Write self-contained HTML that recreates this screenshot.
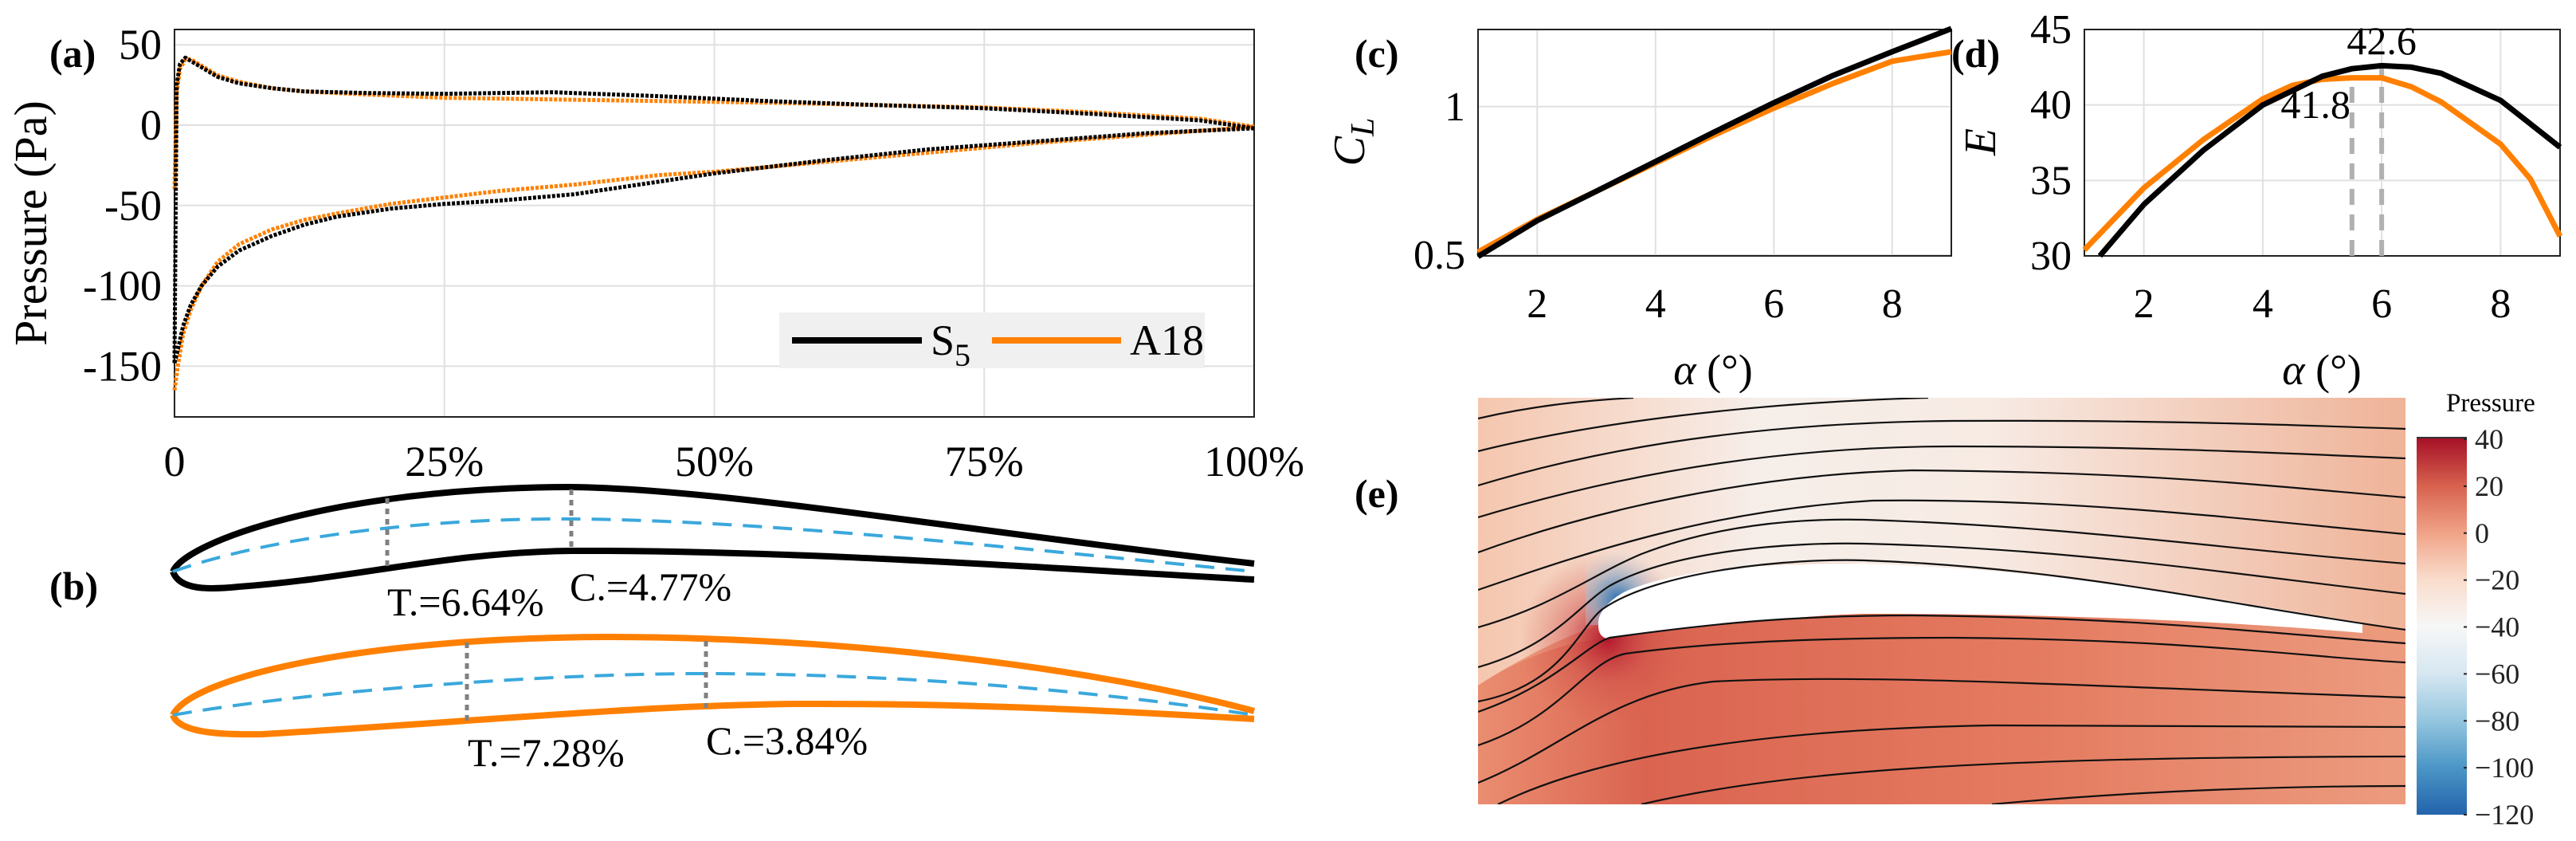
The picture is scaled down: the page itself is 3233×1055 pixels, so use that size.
<!DOCTYPE html>
<html><head><meta charset="utf-8"><style>
html,body{margin:0;padding:0;background:#fff;}
svg, svg text{font-family:"Liberation Serif",serif;}
svg{display:block;}
</style></head><body>
<svg id="root" width="3233" height="1055" viewBox="0 0 3233 1055" xmlns="http://www.w3.org/2000/svg" font-family="Liberation Serif, serif">
<defs>
<linearGradient id="cbar" x1="0" y1="0" x2="0" y2="1">
<stop offset="0" stop-color="#a50f26"/><stop offset="0.125" stop-color="#d6604d"/><stop offset="0.25" stop-color="#f0a286"/><stop offset="0.375" stop-color="#f9dccb"/><stop offset="0.5" stop-color="#f7f7f7"/><stop offset="0.625" stop-color="#d6e7f1"/><stop offset="0.75" stop-color="#95c6df"/><stop offset="0.875" stop-color="#4b96c6"/><stop offset="1" stop-color="#2363ab"/>
</linearGradient>
<linearGradient id="upG" x1="0" y1="0" x2="1" y2="0">
<stop offset="0" stop-color="#f5c6ae"/><stop offset="0.3" stop-color="#f6eee9"/><stop offset="0.55" stop-color="#f7ebe4"/><stop offset="1" stop-color="#efb398"/>
</linearGradient>
<linearGradient id="lowG" x1="0" y1="0" x2="1" y2="0">
<stop offset="0" stop-color="#ea8d70"/><stop offset="0.18" stop-color="#da6450"/><stop offset="0.6" stop-color="#e47b60"/><stop offset="1" stop-color="#ec9b7f"/>
</linearGradient>
<radialGradient id="hot" cx="2018" cy="802" r="110" gradientUnits="userSpaceOnUse">
<stop offset="0" stop-color="#b2182b"/><stop offset="0.5" stop-color="#d0504a" stop-opacity="0.5"/><stop offset="1" stop-color="#d6604d" stop-opacity="0"/>
</radialGradient>
<radialGradient id="cold" cx="2030" cy="752" r="65" gradientUnits="userSpaceOnUse">
<stop offset="0" stop-color="#2c6fb0"/><stop offset="0.45" stop-color="#7fb5d8" stop-opacity="0.6"/><stop offset="1" stop-color="#e8f0f5" stop-opacity="0"/>
</radialGradient>
<clipPath id="fclip"><rect x="1855" y="499" width="1164" height="510"/></clipPath>
<clipPath id="upclip"><path d="M1855,499 L3019,499 L3019,792 L2965,781 C2800,755 2600,715 2340,707 C2200,703 2080,720 2030,752 C2010,765 2004,778 2006,784 L1855,784 Z"/></clipPath>
</defs>

<!-- ===== Panel (a) ===== -->
<g id="pa"></g>
<text x="62" y="84" font-size="50" font-weight="bold">(a)</text>
<text transform="translate(58,280) rotate(-90)" text-anchor="middle" font-size="58">Pressure (Pa)</text>
<g>
<rect x="978" y="392" width="534" height="70" fill="#f0f0f0"/>
<line x1="994" y1="427" x2="1157" y2="427" stroke="#000" stroke-width="8"/>
<text x="1168" y="445" font-size="54">S<tspan font-size="40" dy="14">5</tspan></text>
<line x1="1245" y1="427" x2="1407" y2="427" stroke="#ff8000" stroke-width="8"/>
<text x="1418" y="445" font-size="54">A18</text>
</g>

<!-- ===== Panel (b) ===== -->
<text x="62" y="752" font-size="50" font-weight="bold">(b)</text>
<g>
<path d="M217,717 C225,740 260,740 300,736 C450,725 560,693 717,691 C1000,690 1300,712 1574,727" fill="none" stroke="#000" stroke-width="8"/>
<path d="M217,717 C232,680 420,612 713,611 C900,612 1200,665 1574,707" fill="none" stroke="#000" stroke-width="8"/>
<path d="M217,717 C350,670 550,650 717,651 C950,652 1300,690 1574,717" fill="none" stroke="#3aa8dc" stroke-width="4" stroke-dasharray="24 14"/>
<line x1="486" y1="625" x2="486" y2="714" stroke="#808080" stroke-width="5" stroke-dasharray="7 6"/>
<line x1="717" y1="614" x2="717" y2="692" stroke="#808080" stroke-width="5" stroke-dasharray="7 6"/>
<text x="486" y="772" font-size="50">T.=6.64%</text>
<text x="715" y="753" font-size="50">C.=4.77%</text>
</g>
<g>
<path d="M217,897 C225,920 280,922 330,921 C600,905 800,885 1000,883 C1250,882 1450,895 1574,902" fill="none" stroke="#ff8000" stroke-width="8"/>
<path d="M217,897 C240,850 450,800 765,799 C1100,800 1400,845 1574,892" fill="none" stroke="#ff8000" stroke-width="8"/>
<path d="M217,897 C400,865 700,845 878,845 C1150,845 1400,870 1574,897" fill="none" stroke="#3aa8dc" stroke-width="4" stroke-dasharray="24 14"/>
<line x1="586" y1="806" x2="586" y2="906" stroke="#808080" stroke-width="5" stroke-dasharray="7 6"/>
<line x1="886" y1="804" x2="886" y2="888" stroke="#808080" stroke-width="5" stroke-dasharray="7 6"/>
<text x="587" y="961" font-size="50">T.=7.28%</text>
<text x="886" y="946" font-size="50">C.=3.84%</text>
</g>

<!-- ===== Panels (c),(d) ===== -->
<g id="pc"></g>
<g id="pd"></g>
<text x="1700" y="84" font-size="50" font-weight="bold">(c)</text>
<text x="2449" y="84" font-size="50" font-weight="bold">(d)</text>
<text transform="translate(1712,178) rotate(-90)" text-anchor="middle" font-size="56" font-style="italic">C<tspan font-size="42" dy="12">L</tspan></text>
<text transform="translate(2504,178) rotate(-90)" text-anchor="middle" font-size="56" font-style="italic">E</text>
<text x="2150" y="482" text-anchor="middle" font-size="54"><tspan font-style="italic">α</tspan> (°)</text>
<text x="2914" y="482" text-anchor="middle" font-size="54"><tspan font-style="italic">α</tspan> (°)</text>

<!-- ===== Panel (e) ===== -->
<text x="1700" y="636" font-size="50" font-weight="bold">(e)</text>
<g clip-path="url(#fclip)">
<rect x="1855" y="499" width="1164" height="510" fill="#eb9a7c"/>
<path d="M1855,499 L3019,499 L3019,792 L2965,781 C2800,755 2600,715 2340,707 C2200,703 2080,720 2030,752 C2010,765 2004,778 2006,784 C1960,800 1900,830 1855,860 Z" fill="url(#upG)"/>
<path d="M1855,860 C1900,830 1960,805 2016,801 C2100,790 2250,772 2340,770 C2600,770 2800,780 2965,794 L3019,800 L3019,1009 L1855,1009 Z" fill="url(#lowG)"/>
<rect x="1855" y="499" width="1164" height="510" fill="url(#hot)"/>
<rect x="1990" y="499" width="1029" height="510" fill="url(#cold)" clip-path="url(#upclip)"/>
<path d="M2006,784 C2004,770 2020,752 2040,742 C2100,715 2220,705 2340,707 C2600,715 2800,755 2965,781 L2965,794 C2800,780 2600,770 2340,770 C2250,772 2100,790 2016,801 C2008,798 2006,792 2006,784 Z" fill="#fff"/>
<g id="streams" fill="none" stroke="#111" stroke-width="2.2">
<path d="M1855,525 C1920,510 1980,503 2050,499"/>
<path d="M1855,566 C2000,530 2200,505 2420,499"/>
<path d="M1855,609 C2050,550 2250,530 2450,528 C2700,527 2850,532 3019,538"/>
<path d="M1855,649 C2050,590 2250,560 2450,560 C2700,560 2850,568 3019,575"/>
<path d="M1855,693 C2000,640 2200,595 2400,590 C2700,592 2850,610 3019,624"/>
<path d="M1855,740 C2000,690 2150,640 2350,628 C2600,625 2800,650 3019,670"/>
<path d="M1855,787 C1950,760 2000,720 2060,695 C2150,660 2250,650 2340,652 C2600,660 2800,690 3019,707"/>
<path d="M1855,837 C1950,810 1980,760 2020,735 C2100,690 2250,680 2340,682 C2600,688 2800,720 3019,745"/>
<path d="M1855,880 C1960,860 1980,790 2010,765 C2080,715 2250,700 2340,703 C2600,712 2800,760 3019,790"/>
<path d="M1855,893 C1950,860 1990,810 2020,800 C2150,782 2250,772 2400,772 C2700,775 2850,795 3019,807"/>
<path d="M1855,935 C1960,900 1990,830 2040,820 C2150,805 2300,800 2450,800 C2750,802 2900,825 3019,831"/>
<path d="M1855,982 C1960,940 2020,870 2150,855 C2350,845 2600,860 3019,875"/>
<path d="M1880,1009 C2000,950 2200,915 2500,910 L3019,912"/>
<path d="M2060,1009 C2250,965 2500,950 3019,949"/>
<path d="M2500,1009 C2700,990 2900,986 3019,986"/>
</g>
</g>
<rect x="3033" y="549" width="63" height="473" fill="url(#cbar)"/>
<line x1="3033" y1="549" x2="3096" y2="549" stroke="#333" stroke-width="2"/>
<text x="3070" y="516" font-size="33">Pressure</text>
<g id="cbticks"></g>

<script>
var NS="http://www.w3.org/2000/svg";
function mk(tag,attrs,parent){var e=document.createElementNS(NS,tag);for(var k in attrs)e.setAttribute(k,attrs[k]);parent.appendChild(e);return e;}

// ---- Panel (a) data ----
var aXTicks=[0,25,50,75,100];
var aXTickLabels=["0","25%","50%","75%","100%"];
var aYTicks=[50,0,-50,-100,-150];
var s5UpperX=[0,0.2,0.5,1,1.5,2.5,4,6,9,12,18,25,35,45,55,65,75,85,95,100];
var s5UpperP=[-148,25,38,42,40,36,30,26,23,21,20,19.5,20.5,18,15,12.5,10.5,7,3,-2];
var a18UpperX=[0,0.2,0.5,1,1.5,2.5,4,6,9,12,18,25,35,45,55,65,75,85,95,100];
var a18UpperP=[-40,20,35,41,41,37,31,27,23,21,19,17,16,15,14,12.5,11,8,4,-1];
var s5LowerX=[0,0.3,0.8,1.5,2.5,4,6,9,12,15,20,25,30,37,45,50,60,70,80,90,100];
var s5LowerP=[-148,-140,-125,-112,-100,-88,-78,-69,-62,-57,-52,-49,-47,-43,-35,-30,-22,-15,-10,-5,-2];
var a18LowerX=[0,0.3,0.8,1.5,2.5,4,6,9,12,15,20,25,30,37,45,50,60,70,80,90,100];
var a18LowerP=[-165,-150,-130,-115,-100,-85,-74,-65,-59,-55,-49,-45,-41,-37,-31,-29,-23,-17,-11,-6,-1];

// ---- Panel (c) data ----
var alphaCL=[1,2,3,4,5,6,7,8,9];
var clS5=[0.495,0.616,0.715,0.815,0.915,1.013,1.105,1.185,1.263];
var clA18=[0.51,0.62,0.715,0.81,0.905,0.995,1.078,1.153,1.185];
// ---- Panel (d) data ----
var alphaS5E=[1.26,2,3,4,5,5.5,6,6.5,7,8,9];
var eS5=[30,33.4,37.0,40.0,41.9,42.4,42.6,42.5,42.1,40.3,37.2];
var alphaA18E=[1,2,3,4,4.5,5,5.5,6,6.5,7,8,8.5,9];
var eA18=[30.4,34.5,37.7,40.4,41.3,41.7,41.8,41.8,41.2,40.2,37.4,35.1,31.3];
var peakAlphas=[5.5,6];
var peakValues=[41.8,42.6];
var xTicksCD=[2,4,6,8];
var cYTicks=[0.5,1];
var dYTicks=[30,35,40,45];
var cbTicks=[40,20,0,-20,-40,-60,-80,-100,-120];

function axis(d0,d1,r0,r1){return function(v){return r0+(v-d0)/(d1-d0)*(r1-r0);};}

// Panel (a)
(function(){
var g=document.getElementById('pa');
var X=axis(0,100,219,1574), Y=axis(0,50,157,56.2);
var L=219,R=1574,T=37,B=523;
aXTicks.forEach(function(t,i){
 var l=mk('line',{x1:X(t),y1:T,x2:X(t),y2:B,stroke:'#e0e0e0','stroke-width':2},g);
 
 
 var tx=mk('text',{x:X(t),y:597,'text-anchor':'middle','font-size':54},g);tx.textContent=aXTickLabels[i];
 
 
});
aYTicks.forEach(function(t){
 var l=mk('line',{x1:L,y1:Y(t),x2:R,y2:Y(t),stroke:'#e0e0e0','stroke-width':2},g);
 
 
 var tx=mk('text',{x:203,y:Y(t)+18,'text-anchor':'end','font-size':54},g);tx.textContent=String(t);
 
 
});
var bx=mk('rect',{x:L,y:T,width:R-L,height:B-T,fill:'none',stroke:'#222','stroke-width':2},g);


function series(xs,ys,col,name){
 var d=xs.map(function(x,i){return (i?'L':'M')+X(x).toFixed(1)+','+Y(ys[i]).toFixed(1);}).join(' ');
 var p=mk('path',{d:d,fill:'none',stroke:col,'stroke-width':5,'stroke-dasharray':'4 2','stroke-linejoin':'round'},g);
 
 
}
series(a18UpperX,a18UpperP,'#ff8000','a18-upper-pressure');
series(a18LowerX,a18LowerP,'#ff8000','a18-lower-pressure');
series(s5UpperX,s5UpperP,'#000','s5-upper-pressure');
series(s5LowerX,s5LowerP,'#000','s5-lower-pressure');
})();

function linePanel(gid,L,R,T,B,ylo,yhi,yTicks,fmt){
 var g=document.getElementById(gid);
 var X=axis(1,9,L,R), Y=axis(ylo,yhi,B,T);
 xTicksCD.forEach(function(t){
  var l=mk('line',{x1:X(t),y1:T,x2:X(t),y2:B,stroke:'#e0e0e0','stroke-width':2},g);
  
  
  var tx=mk('text',{x:X(t),y:398,'text-anchor':'middle','font-size':52},g);tx.textContent=String(t);
  
  
 });
 yTicks.forEach(function(t){
  var l=mk('line',{x1:L,y1:Y(t),x2:R,y2:Y(t),stroke:'#e0e0e0','stroke-width':2},g);
  
  
  var tx=mk('text',{x:L-16,y:Y(t)+17,'text-anchor':'end','font-size':52},g);tx.textContent=fmt(t);
  
  
 });
 var bx=mk('rect',{x:L,y:T,width:R-L,height:B-T,fill:'none',stroke:'#222','stroke-width':2},g);
 
 
 return {g:g,X:X,Y:Y};
}
function curve(P,xs,ys,col,name){
 var d=xs.map(function(x,i){return (i?'L':'M')+P.X(x).toFixed(1)+','+P.Y(ys[i]).toFixed(1);}).join(' ');
 var p=mk('path',{d:d,fill:'none',stroke:col,'stroke-width':7,'stroke-linejoin':'round'},P.g);
 
 
}
var PC=linePanel('pc',1855,2449,37,321,0.497,1.26,cYTicks,function(t){return String(t);});
curve(PC,alphaCL,clA18,'#ff8000','a18-cl-line');
curve(PC,alphaCL,clS5,'#000','s5-cl-line');
var PD=linePanel('pd',2616,3213,37,321,30,45,dYTicks,function(t){return String(t);});
peakAlphas.forEach(function(a,i){
 var l=mk('line',{x1:PD.X(a),y1:321,x2:PD.X(a),y2:PD.Y(peakValues[i]),stroke:'#b0b0b0','stroke-width':6,'stroke-dasharray':'20 12'},PD.g);
 
 
});
curve(PD,alphaA18E,eA18,'#ff8000','a18-e-line');
curve(PD,alphaS5E,eS5,'#000','s5-e-line');
(function(){
 var t1=mk('text',{x:PD.X(peakAlphas[1]),y:68,'text-anchor':'middle','font-size':50},PD.g);t1.textContent=String(peakValues[1]);
 
 
 var t2=mk('text',{x:PD.X(peakAlphas[0])-2,y:148,'text-anchor':'end','font-size':50},PD.g);t2.textContent=String(peakValues[0]);
 
 
})();

// colorbar ticks
(function(){
 var g=document.getElementById('cbticks');
 var Y=axis(40,-120,551,1022);
 cbTicks.forEach(function(t){
  var tk=mk('line',{x1:3092,y1:Y(t),x2:3096,y2:Y(t),stroke:'#222','stroke-width':2},g);
  
  
  var tx=mk('text',{x:3106,y:Y(t)+12,'font-size':36,fill:'#222'},g);tx.textContent=(t<0?'\u2212'+(-t):String(t));
  
  
 });
})();
</script>
</svg>
</body></html>
